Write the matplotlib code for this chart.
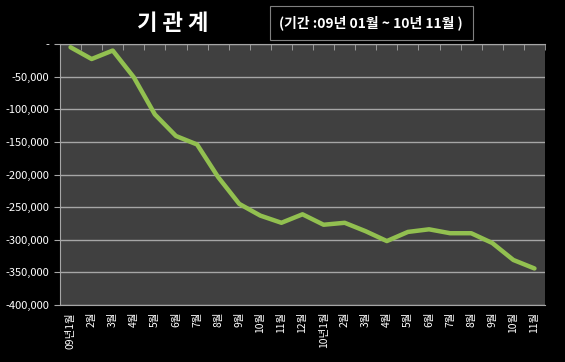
import matplotlib.pyplot as plt
from matplotlib.ticker import FuncFormatter

plt.rcParams['font.family'] = ['Noto Sans CJK KR', 'DejaVu Sans']

# 월별 기관 누적 순매수 (09년 01월 ~ 10년 11월)
months = ["09년1월", "2월", "3월", "4월", "5월", "6월", "7월", "8월", "9월", "10월", "11월", "12월",
          "10년1월", "2월", "3월", "4월", "5월", "6월", "7월", "8월", "9월", "10월", "11월"]
values = [-5000, -23000, -10000, -51000, -108000, -141000, -154000, -204000, -245000, -263000,
          -274000, -261000, -277000, -274000, -287000, -302000, -288000, -284000, -290000,
          -290000, -305000, -331000, -344000]
yticks = [0, -50000, -100000, -150000, -200000, -250000, -300000, -350000, -400000]

fig = plt.figure(figsize=(5.65, 3.62), dpi=100, facecolor="black")
ax = fig.add_axes([60/565, 57/362, 485/565, 261/362])
ax.set_facecolor("#404040")

x = list(range(len(values)))
ax.plot(x, values, color="#92C050", lw=3.2, solid_capstyle="round", solid_joinstyle="round", zorder=3)

ax.set_ylim(-400000, 0)
ax.set_xlim(-0.5, len(values) - 0.5)
ax.set_yticks(yticks)
ax.yaxis.set_major_formatter(FuncFormatter(lambda v, p: "-" if v == 0 else f"{v:,.0f}"))
ax.grid(axis="y", color="#A6A6A6", lw=1)
ax.set_axisbelow(True)

ax.set_xticks(x)
ax.set_xticklabels(months, rotation=90, color="white", fontsize=7.5)
ax.set_xticks([i - 0.5 for i in range(len(values) + 1)], minor=True)
ax.tick_params(axis="x", which="major", length=0, pad=5)
ax.tick_params(axis="x", which="minor", top=True, bottom=False, direction="in", length=4, color="#A6A6A6")
ax.tick_params(axis="y", colors="white", labelsize=8, length=4, color="#A6A6A6")

for s in ["top", "left", "bottom"]:
    ax.spines[s].set_color("#A6A6A6")
ax.spines["right"].set_visible(False)

fig.text(0.305, 0.936, "기 관 계", color="white", fontsize=16, fontweight="bold", ha="center", va="center")
fig.text(0.657, 0.936, "(기간 :09년 01월 ~ 10년 11월 )", color="white", fontsize=10, fontweight="bold",
         ha="center", va="center",
         bbox=dict(boxstyle="square,pad=0.7", fc="black", ec="#808080", lw=0.8))

fig.savefig("out.png", dpi=100, facecolor="black")
